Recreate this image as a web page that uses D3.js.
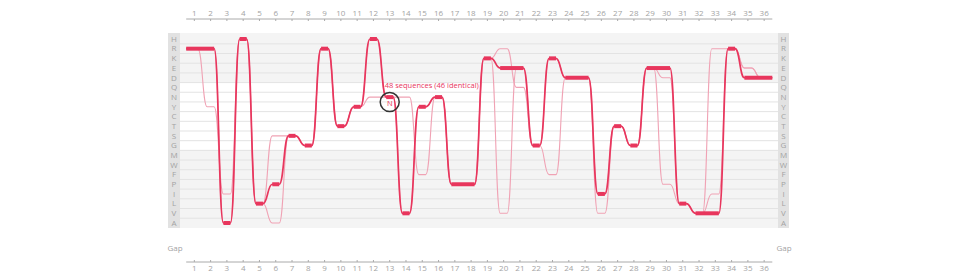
<!DOCTYPE html>
<html>
<head>
<meta charset="utf-8">
<script src="https://cdn.jsdelivr.net/npm/d3@7"></script>
<style>
  body { margin: 0; background: #fff; }
  text { font-family: "Open Sans", sans-serif; }
</style>
</head>
<body>
<div id="container"></div>
<script>
const width = 965;
const height = 274;

// alignment columns (tick labels)
const positions = [1,2,3,4,5,6,7,8,9,10,11,12,13,14,15,16,17,18,19,20,21,22,23,24,25,26,27,28,29,30,31,32,33,34,35,36];

// residue rows, top to bottom
const residues = ["H","R","K","E","D","Q","N","Y","C","T","S","G","M","W","F","P","I","L","V","A"];

// consensus (46 identical sequences)
const mainSeq = ["R","R","A","H","L","P","S","G","R","T","Y","H","N","V","Y","N","P","P","K","E","E","G","K","D","D","I","T","G","E","E","L","V","V","R","D","D"];
// the two differing sequences
const variantA = ["R","Y","I","H","L","S","S","G","R","T","Y","N","N","N","F","N","P","P","K","R","Q","G","F","D","D","V","T","G","E","P","L","V","R","R","E","D"];
const variantB = ["R","R","A","H","L","A","S","G","R","T","Y","H","N","V","Y","N","P","P","K","V","E","G","K","D","D","I","T","G","E","D","L","V","I","R","E","D"];

// shaded residue groups
const groups = [["H","D"], ["M","A"]];

const annotation = { pos: 13, residue: "N", text: "48 sequences (46 identical)" };

const red = "#e8365d";
const grey = "#a3a3a3";

const x = d3.scaleBand()
  .domain(positions)
  .range([186.2, 772.3]);
const cx = p => x(p) + x.bandwidth() / 2;

const y = d3.scalePoint()
  .domain(residues)
  .range([39, 223]);
const step = y.step();

const plotLeft = 180, plotRight = 778, plotTop = 33, plotBottom = 228;
const gapY = 248;
const hw = 3.5;

const svg = d3.create("svg")
  .attr("width", width)
  .attr("height", height)
  .attr("viewBox", [0, 0, width, height]);

// background
svg.append("rect")
  .attr("x", plotLeft).attr("y", plotTop)
  .attr("width", plotRight - plotLeft).attr("height", plotBottom - plotTop)
  .attr("fill", "#ffffff");

svg.append("g")
  .selectAll("rect")
  .data(groups)
  .join("rect")
    .attr("x", plotLeft)
    .attr("width", plotRight - plotLeft)
    .attr("y", d => d[0] === residues[0] ? plotTop : y(d[0]) - step / 2)
    .attr("height", d => (d[1] === residues[residues.length - 1] ? plotBottom : y(d[1]) + step / 2)
                         - (d[0] === residues[0] ? plotTop : y(d[0]) - step / 2))
    .attr("fill", "#f4f4f4");

// grid lines between rows
svg.append("g")
  .selectAll("line")
  .data(residues.slice(1))
  .join("line")
    .attr("x1", plotLeft).attr("x2", plotRight)
    .attr("y1", d => y(d) - step / 2).attr("y2", d => y(d) - step / 2)
    .attr("stroke", "#e3e3e3");

// residue label columns
for (const [bx, bw] of [[168, 12], [778, 11]]) {
  svg.append("rect")
    .attr("x", bx).attr("y", plotTop)
    .attr("width", bw).attr("height", plotBottom - plotTop)
    .attr("fill", "#e2e2e2");
  svg.append("g")
    .selectAll("text")
    .data(residues)
    .join("text")
      .attr("x", bx + bw / 2)
      .attr("y", d => y(d))
      .attr("dy", "0.35em")
      .attr("text-anchor", "middle")
      .attr("font-size", 8)
      .attr("fill", grey)
      .text(d => d);
}

// Gap labels
svg.append("g")
  .selectAll("text")
  .data([175, 784])
  .join("text")
    .attr("x", d => d)
    .attr("y", gapY)
    .attr("dy", "0.35em")
    .attr("text-anchor", "middle")
    .attr("font-size", 8)
    .attr("fill", grey)
    .text("Gap");

// axes
const axisTop = svg.append("g")
  .attr("transform", "translate(0,19)")
  .call(d3.axisTop(x).tickSize(-2).tickPadding(3));
const axisBottom = svg.append("g")
  .attr("transform", "translate(0,262)")
  .call(d3.axisBottom(x).tickSize(-2).tickPadding(3));
for (const g of [axisTop, axisBottom]) {
  g.select(".domain").attr("stroke", "#aaa").attr("d", `M${x.range()[0]},0H${x.range()[1]}`);
  g.selectAll(".tick line").attr("stroke", "#aaa");
  g.selectAll(".tick text").attr("fill", grey).attr("font-size", 8).attr("font-family", "Open Sans, sans-serif");
}
axisTop.selectAll(".tick line").attr("y2", 2);
axisBottom.selectAll(".tick line").attr("y2", -2);

// sequence paths
const pointsOf = seq => {
  const pts = [];
  seq.forEach((r, i) => {
    const p = positions[i];
    const left = i === 0 ? x.range()[0] : cx(p) - hw;
    const right = i === seq.length - 1 ? x.range()[1] : cx(p) + hw;
    pts.push([left, y(r)], [right, y(r)]);
  });
  return pts;
};
const line = d3.line().curve(d3.curveBumpX);

svg.append("g")
  .selectAll("path")
  .data([variantA, variantB])
  .join("path")
    .attr("d", d => line(pointsOf(d)))
    .attr("fill", "none")
    .attr("stroke", "#f0a2b4")
    .attr("stroke-width", 1.1);

svg.append("path")
  .attr("d", line(pointsOf(mainSeq)))
  .attr("fill", "none")
  .attr("stroke", red)
  .attr("stroke-width", 1.7);

// thick plateaus of consensus
const runs = [];
mainSeq.forEach((r, i) => {
  const last = runs[runs.length - 1];
  if (last && last.r === r) last.end = i; else runs.push({ r, start: i, end: i });
});
svg.append("g")
  .selectAll("line")
  .data(runs)
  .join("line")
    .attr("x1", d => d.start === 0 ? x.range()[0] : cx(positions[d.start]) - hw)
    .attr("x2", d => d.end === mainSeq.length - 1 ? x.range()[1] : cx(positions[d.end]) + hw)
    .attr("y1", d => y(d.r)).attr("y2", d => y(d.r))
    .attr("stroke", red)
    .attr("stroke-width", 4);

// annotation
const ax = cx(annotation.pos), ay = y(annotation.residue);
svg.append("circle")
  .attr("cx", ax).attr("cy", ay + 5)
  .attr("r", 9.5)
  .attr("fill", "none")
  .attr("stroke", "#333")
  .attr("stroke-width", 1.5);
svg.append("text")
  .attr("x", ax).attr("y", ay + 8.5)
  .attr("text-anchor", "middle")
  .attr("font-size", 7.5)
  .attr("fill", red)
  .text(annotation.residue);
svg.append("text")
  .attr("x", ax - 5).attr("y", ay - 9)
  .attr("font-size", 7.5)
  .attr("fill", red)
  .text(annotation.text);

document.getElementById("container").appendChild(svg.node());
</script>
</body>
</html>
